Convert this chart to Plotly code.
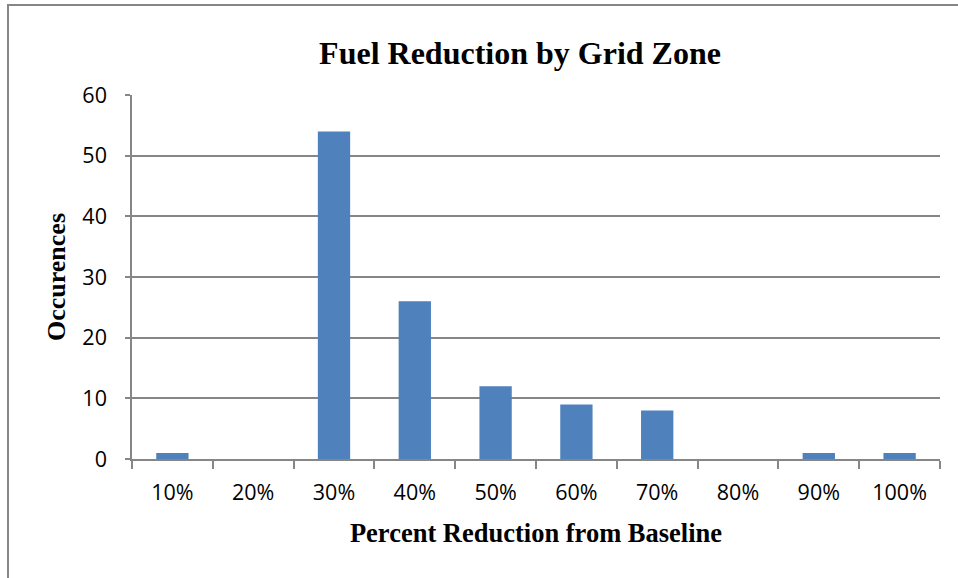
import plotly.graph_objects as go

# category labels and counts
categories = ["10%", "20%", "30%", "40%", "50%", "60%", "70%", "80%", "90%", "100%"]
occurrences = [1, 0, 54, 26, 12, 9, 8, 0, 1, 1]

grey = "#868686"

fig = go.Figure(go.Bar(x=categories, y=occurrences, marker=dict(color="#4F81BD", line=dict(width=0))))

fig.update_layout(
    width=958, height=578,
    margin=dict(l=132, r=18, t=95, b=119),
    paper_bgcolor="white", plot_bgcolor="white",
    bargap=0.6,
    showlegend=False,
    title=dict(text="<b>Fuel Reduction by Grid Zone</b>", x=520 / 958, xanchor="center",
               y=1 - 53 / 578, yanchor="middle",
               font=dict(family="Liberation Serif", size=32, color="black")),
    font=dict(family="Open Sans", size=21.5, color="black"),
)

fig.update_xaxes(
    type="category", tickson="boundaries", ticks="outside", ticklen=8, tickwidth=1.5,
    tickcolor=grey, showline=True, linecolor=grey, linewidth=1.5, showgrid=False,
    ticklabelstandoff=13,
    title=dict(text="<b>Percent Reduction from Baseline</b>", standoff=19,
               font=dict(family="Liberation Serif", size=26.5, color="black")),
)
fig.update_yaxes(
    range=[0, 60], dtick=10, ticks="outside", ticklen=5, tickwidth=1.5, tickcolor=grey,
    showline=True, linecolor=grey, linewidth=1.5, showgrid=True, gridcolor=grey, gridwidth=1.5,
    zeroline=False, ticklabelstandoff=14,
    title=dict(text="<b>Occurences</b>", standoff=9,
               font=dict(family="Liberation Serif", size=26, color="black")),
)

# outer chart frame (left and top edges visible, the rest runs off the picture)
fig.add_shape(type="rect", xref="paper", yref="paper",
              x0=(8 - 132) / 808, x1=(970 - 132) / 808, y0=(459 - 600) / 364, y1=(459 - 5) / 364,
              line=dict(color=grey, width=2), fillcolor="rgba(0,0,0,0)", layer="below")

fig.write_html("out.html", config={"displayModeBar": False},
               post_script="document.body.style.margin='0';")
